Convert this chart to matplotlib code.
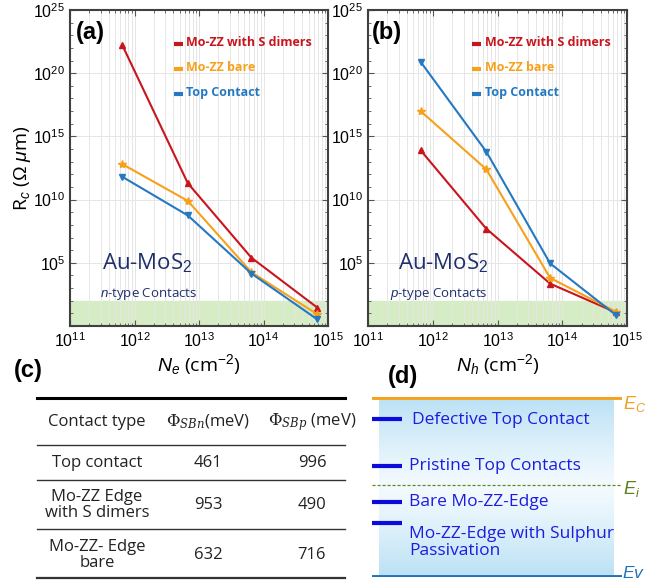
import numpy as np
import matplotlib
matplotlib.use("Agg")
import matplotlib.pyplot as plt
from matplotlib.ticker import LogLocator, FuncFormatter, NullFormatter
from matplotlib.colors import LinearSegmentedColormap

plt.rcParams["font.family"] = ["Liberation Sans", "DejaVu Sans"]
plt.rcParams["mathtext.fontset"] = "custom"
plt.rcParams["mathtext.rm"] = "Liberation Sans"
plt.rcParams["mathtext.it"] = "Liberation Sans:italic"

TXT = ["Open Sans", "DejaVu Sans"]

# ---- data ---------------------------------------------------------------
carrier_density = [6.5e11, 6.7e12, 6.5e13, 6.8e14]  # cm^-2

# panel (a): n-type, log10(Rc)
rc_n_dimers = [22.2, 11.3, 5.4, 1.46]
rc_n_bare = [12.8, 9.9, 4.25, 0.93]
rc_n_top = [11.8, 8.75, 4.15, 0.53]

# panel (b): p-type, log10(Rc)
rc_p_dimers = [13.9, 7.7, 3.35, 1.07]
rc_p_bare = [17.0, 12.4, 3.8, 1.12]
rc_p_top = [20.9, 13.8, 4.95, 0.85]

series_names = ["Mo-ZZ with S dimers", "Mo-ZZ bare", "Top Contact"]
series_colors = ["#c8161d", "#f9a01b", "#2479c2"]
series_markers = ["^", "*", "v"]

# panel (c): Schottky barrier table
table_header = ["Contact type", r"$\mathit{\Phi_{SBn}}$(meV)", r"$\mathit{\Phi_{SBp}}$ (meV)"]
contact_types = ["Top contact", "Mo-ZZ Edge\nwith S dimers", "Mo-ZZ- Edge\nbare"]
phi_sbn = [461, 953, 632]
phi_sbp = [996, 490, 716]

# panel (d): level diagram (0 = Ev, 1 = Ec)
level_names = ["Defective Top Contact", "Pristine Top Contacts", "Bare Mo-ZZ-Edge",
               "Mo-ZZ-Edge with Sulphur\nPassivation"]
level_heights = [0.878, 0.617, 0.417, 0.30]
label_heights = [0.872, 0.617, 0.417, 0.19]
ei_height = 0.511

fig = plt.figure(figsize=(6.49, 5.84), dpi=100)
W, H = 649, 584


def px_axes(x0, y0, x1, y1):
    return fig.add_axes([x0 / W, 1 - y1 / H, (x1 - x0) / W, (y1 - y0) / H])


def tick_fmt(v, pos):
    e = int(round(np.log10(v)))
    if e == 0:
        return ""
    return r"$\mathregular{10^{%d}}$" % e


def rc_panel(ax, ys, tag, kind, xlabel, show_ylabel, x_tag, x_au, x_kind):
    ax.set_xscale("log")
    ax.set_yscale("log")
    ax.axhspan(1, 1e2, color="#d6ecc4", zorder=0)
    for y, name, c, m in zip(ys, series_names, series_colors, series_markers):
        ax.plot(carrier_density, [10 ** v for v in y], color=c, lw=1.5,
                marker=m, ms=6 if m == "*" else 4.5, mec=c, mfc=c, zorder=3)
    ax.set_xlim(1e11, 1e15)
    ax.set_ylim(1, 1e25)
    ax.xaxis.set_major_locator(LogLocator(base=10, numticks=10))
    ax.xaxis.set_minor_locator(LogLocator(base=10, subs=np.arange(2, 10), numticks=20))
    ax.yaxis.set_major_locator(LogLocator(base=1e5, numticks=10))
    ax.yaxis.set_minor_locator(LogLocator(base=10, subs=[1.0], numticks=30))
    ax.xaxis.set_major_formatter(FuncFormatter(tick_fmt))
    ax.yaxis.set_major_formatter(FuncFormatter(tick_fmt))
    ax.xaxis.set_minor_formatter(NullFormatter())
    ax.yaxis.set_minor_formatter(NullFormatter())
    ax.tick_params(which="both", direction="in", top=True, right=True,
                   color="#555555", labelsize=11.5)
    ax.tick_params(which="major", length=4, width=0.8)
    ax.tick_params(which="minor", length=2.5, width=0.6)
    ax.tick_params(axis="x", pad=4)
    ax.grid(True, which="both", axis="x", color="#e6e6e6", lw=0.7, zorder=1)
    ax.grid(True, which="major", axis="y", color="#e6e6e6", lw=0.7, zorder=1)
    for s in ax.spines.values():
        s.set_color("#404040")
        s.set_linewidth(1.5)
    ax.set_xlabel(xlabel, fontsize=14, family=TXT, labelpad=1)
    if show_ylabel:
        ax.set_ylabel(r"R$_{\mathit{c}}$ ($\Omega$ $\mathit{\mu}$m)", fontsize=14,
                      family=TXT, labelpad=0)
    ax.text(x_tag, 0.928, tag, transform=ax.transAxes, fontsize=17,
            fontweight="bold", va="center", ha="left")
    for i, (name, c) in enumerate(zip(series_names, series_colors)):
        yy = 0.896 - i * 0.079
        ax.plot([0.402, 0.438], [yy - 0.004, yy - 0.004], transform=ax.transAxes,
                color=c, lw=3, solid_capstyle="butt", zorder=4)
        ax.text(0.45, yy, name, transform=ax.transAxes, color=c, fontsize=9,
                fontweight="bold", va="center", ha="left", family=TXT)
    ax.text(x_au, 0.2, r"Au-MoS$_2$", transform=ax.transAxes, color="#1f2f6b",
            fontsize=16, va="center", ha="left", family=TXT)
    ax.text(x_kind, 0.10, kind, transform=ax.transAxes, color="#1f2f6b",
            fontsize=9.5, va="center", ha="left", family=TXT)


ax_a = px_axes(70, 10, 328, 326)
rc_panel(ax_a, [rc_n_dimers, rc_n_bare, rc_n_top], "(a)",
         r"$\mathit{n}$-type Contacts", r"$\mathit{N_e}$ (cm$^{-2}$)", True,
         0.023, 0.125, 0.116)
ax_b = px_axes(368, 10, 627, 326)
rc_panel(ax_b, [rc_p_dimers, rc_p_bare, rc_p_top], "(b)",
         r"$\mathit{p}$-type Contacts", r"$\mathit{N_h}$ (cm$^{-2}$)", False,
         0.015, 0.116, 0.085)

# ---- panel (c): table --------------------------------------------------
ax_c = fig.add_axes([0, 0, 1, 1], facecolor="none")
ax_c.set_xlim(0, W)
ax_c.set_ylim(H, 0)
ax_c.axis("off")
ax_c.text(14, 370, "(c)", fontsize=17, fontweight="bold", va="center", ha="left")
tl, tr = 37, 345
ax_c.plot([tl, tr], [398, 398], color="black", lw=2.2)
ax_c.plot([tl, tr], [445, 445], color="#333333", lw=1.0)
ax_c.plot([tl, tr], [480, 480], color="#333333", lw=1.0)
ax_c.plot([tl, tr], [529, 529], color="#333333", lw=1.0)
ax_c.plot([tl, tr], [578, 578], color="#333333", lw=1.6)
col_x = [97, 208, 312]
for x, h in zip(col_x, table_header):
    ax_c.text(x, 422, h, fontsize=12, ha="center", va="center", family=TXT,
              color="#222222", math_fontfamily="dejavuserif")
row_y = [463, 505, 555]
for y, ct, n, p in zip(row_y, contact_types, phi_sbn, phi_sbp):
    ax_c.text(col_x[0], y, ct, fontsize=12, ha="center", va="center", family=TXT,
              color="#222222", linespacing=0.95)
    ax_c.text(col_x[1], y, str(n), fontsize=12, ha="center", va="center",
              family=TXT, color="#222222")
    ax_c.text(col_x[2], y, str(p), fontsize=12, ha="center", va="center",
              family=TXT, color="#222222")

# ---- panel (d): band diagram --------------------------------------------
ax_c.text(388, 377, "(d)", fontsize=17, fontweight="bold", va="center", ha="left")
ax_d = px_axes(372, 397, 622, 577)
ax_d.set_xlim(0, 1)
ax_d.set_ylim(0, 1)
ax_d.axis("off")
grad = np.abs(np.linspace(-1, 1, 100)).reshape(-1, 1)
cmap = LinearSegmentedColormap.from_list("bg", ["#f3fafe", "#bbe1f5"])
ax_d.imshow(grad ** 1.2, extent=[0.03, 0.97, 0, 1], aspect="auto", cmap=cmap,
            origin="lower", zorder=0)
ax_d.axhline(1, color="#f7a21b", lw=3.5, zorder=3)
ax_d.axhline(0, color="#1f72b8", lw=3.5, zorder=3)
ax_d.axhline(ei_height, color="#5e8e2c", lw=0.9, ls=(0, (2.5, 1.5)), zorder=3)
for lh, th, name in zip(level_heights, label_heights, level_names):
    ax_d.plot([0, 0.12], [lh, lh], color="#0b0bdc", lw=3, solid_capstyle="butt",
              zorder=3)
    ax_d.text(0.16 if lh > 0.8 else 0.148, th, name, color="#1c1ce0", fontsize=12.5,
              family=TXT, va="center", ha="left", linespacing=1.1, zorder=4)
ax_d.text(1.005, 0.96, r"$\mathit{E_C}$", color="#f2a01e", fontsize=13,
          va="center", ha="left", clip_on=False)
ax_d.text(1.005, ei_height - 0.02, r"$\mathit{E_i}$", color="#5e7e1c", fontsize=13,
          va="center", ha="left", clip_on=False)
ax_d.text(1.0, 0.025, r"$\mathit{Ev}$", color="#1f72b8", fontsize=12.5,
          va="center", ha="left", clip_on=False)

fig.savefig("out.png", dpi=100)
